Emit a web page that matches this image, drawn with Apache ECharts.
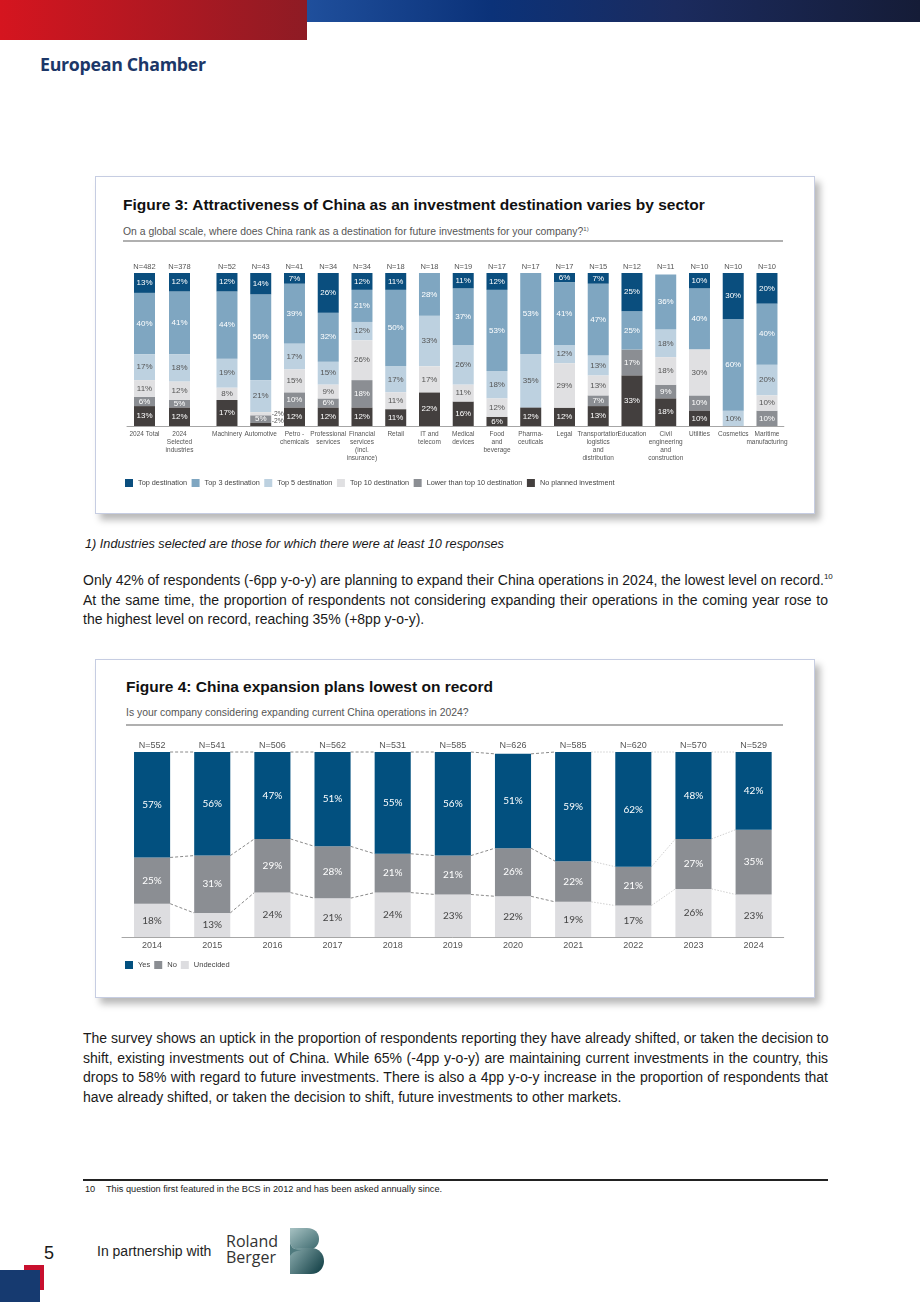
<!DOCTYPE html>
<html><head><meta charset="utf-8">
<script src="https://cdn.jsdelivr.net/npm/echarts@6.0.0/dist/echarts.min.js"></script>
<style>
html,body{margin:0;padding:0;background:#fff;}
#page{position:relative;width:920px;height:1302px;overflow:hidden;font-family:"Liberation Sans",Arial,sans-serif;color:#1a1a1a;}
.a{position:absolute;white-space:nowrap;}
.fig{position:absolute;left:95px;width:720px;border:1px solid #c6cde2;box-sizing:border-box;background:#fff;box-shadow:5px 6px 7px rgba(0,0,0,0.28);}
.ftitle{font-weight:bold;font-size:15.5px;line-height:18px;color:#111;}
.fsub{font-size:10.4px;line-height:12px;color:#555;}
.rule{position:absolute;height:2px;background:#b0b0b0;}
.para{position:absolute;left:83px;width:745px;font-family:"Liberation Sans Narrow","Arial Narrow",sans-serif;font-size:14px;line-height:19.5px;color:#1a1a1a;}
.para div{text-align:justify;text-align-last:justify;white-space:nowrap;}
.para div.last{text-align-last:left;}
sup{font-size:8px;line-height:0;vertical-align:6px;}
</style></head>
<body><div id="page">
<div class="a" style="left:0;top:0;width:307px;height:40px;background:linear-gradient(to right,#d5151f,#8e1b24);"></div>
<div class="a" style="left:307px;top:0;width:613px;height:22px;background:linear-gradient(to right,#1f4f9c 0%,#0b3279 30%,#1b2b5e 60%,#151c37 100%);"></div>
<div class="a" style="left:40px;top:52px;font-family:'Open Sans',sans-serif;font-weight:bold;font-size:17.8px;line-height:24px;color:#1c3768;letter-spacing:-0.3px;">European Chamber</div>

<div class="fig" style="top:176px;height:338px;"></div>
<div class="a ftitle" style="left:123px;top:196px;">Figure 3: Attractiveness of China as an investment destination varies by sector</div>
<div class="a fsub" style="left:123px;top:226px;">On a global scale, where does China rank as a destination for future investments for your company?<sup style="font-size:6px;vertical-align:4px;">1)</sup></div>
<div class="rule" style="left:123px;top:240px;width:660px;"></div>
<div id="c3" class="a" style="left:100px;top:250px;width:710px;height:250px;"></div>

<div class="a" style="left:85px;top:536px;font-family:'Liberation Sans Narrow','Arial Narrow',sans-serif;font-style:italic;font-size:12.7px;line-height:16px;">1) Industries selected are those for which there were at least 10 responses</div>

<div class="para" style="top:571px;">
<div>Only 42% of respondents (-6pp y-o-y) are planning to expand their China operations in 2024, the lowest level on record.<sup>10</sup></div>
<div>At the same time, the proportion of respondents not considering expanding their operations in the coming year rose to</div>
<div class="last">the highest level on record, reaching 35% (+8pp y-o-y).</div>
</div>

<div class="fig" style="top:659px;height:339px;"></div>
<div class="a ftitle" style="left:126px;top:678px;">Figure 4: China expansion plans lowest on record</div>
<div class="a fsub" style="left:126px;top:707px;">Is your company considering expanding current China operations in 2024?</div>
<div class="rule" style="left:126px;top:724px;width:657px;"></div>
<div id="c4" class="a" style="left:100px;top:735px;width:710px;height:250px;"></div>

<div class="para" style="top:1029px;">
<div>The survey shows an uptick in the proportion of respondents reporting they have already shifted, or taken the decision to</div>
<div>shift, existing investments out of China. While 65% (-4pp y-o-y) are maintaining current investments in the country, this</div>
<div>drops to 58% with regard to future investments. There is also a 4pp y-o-y increase in the proportion of respondents that</div>
<div class="last">have already shifted, or taken the decision to shift, future investments to other markets.</div>
</div>

<div class="a" style="left:83px;top:1179px;width:745px;height:1.5px;background:#222;"></div>
<div class="a" style="left:85px;top:1184px;font-size:9.2px;line-height:10px;">10</div>
<div class="a" style="left:106px;top:1184px;font-size:9.2px;line-height:10px;">This question first featured in the BCS in 2012 and has been asked annually since.</div>

<div class="a" style="left:24px;top:1265px;width:20px;height:25px;background:#c8102e;z-index:0;"></div>
<div class="a" style="left:0;top:1270px;width:40px;height:32px;background:#163a70;z-index:1;"></div>
<div class="a" style="left:44px;top:1242px;font-size:18px;line-height:22px;">5</div>
<div class="a" style="left:97px;top:1242px;font-size:14px;line-height:18px;color:#222;">In partnership with</div>
<div class="a" style="left:226px;top:1233px;font-family:'Open Sans',sans-serif;font-size:16px;line-height:16px;color:#333;">Roland<br>Berger</div>
<svg class="a" style="left:290px;top:1228px;" width="34" height="46" viewBox="0 0 34 46">
<defs>
<linearGradient id="g1" x1="0" y1="0" x2="1" y2="1"><stop offset="0" stop-color="#a7c2c3"/><stop offset="1" stop-color="#3a676c"/></linearGradient>
<linearGradient id="g2" x1="0" y1="0" x2="1" y2="0.6"><stop offset="0" stop-color="#8aabad"/><stop offset="1" stop-color="#1e4a50"/></linearGradient>
</defs>
<path d="M0,0 H17 C25,0 29,5 29,11 C29,17 25,22 17,22 H9 C4,22 0,18 0,13 Z" fill="url(#g1)"/>
<path d="M0,46 V30 C0,24 4,20 10,20 H21 C29,20 34,26 34,33 C34,40 29,46 21,46 Z" fill="url(#g2)"/>
<path d="M0,13 C0,18 4,22 9,22 H14 C8,22 0,24 0,30 Z" fill="#4f7a7e"/>
</svg>
</div>

<script>
// ---------- Figure 3 data ----------
const sectorCategories = ['2024 Total','2024\nSelected\nindustries','Machinery','Automotive','Petro -\nchemicals','Professional\nservices','Financial\nservices\n(incl.\ninsurance)','Retail','IT and\ntelecom','Medical\ndevices','Food\nand\nbeverage','Pharma-\nceuticals','Legal','Transportation\nlogistics\nand\ndistribution','Education','Civil\nengineering\nand\nconstruction','Utilities','Cosmetics','Maritime\nmanufacturing'];
const sectorN = ['N=482','N=378','N=52','N=43','N=41','N=34','N=34','N=18','N=18','N=19','N=17','N=17','N=17','N=15','N=12','N=11','N=10','N=10','N=10'];
const rankLevels = ['No planned investment','Lower than top 10 destination','Top 10 destination','Top 5 destination','Top 3 destination','Top destination'];
const noPlanned  = [13,12, 17, 2,12,12,12,11,22,16, 6,12,12,13,33,18,10, 0, 0];
const lowerTop10 = [ 6, 5,  0, 5,10, 6,18, 0, 0, 0, 0, 0, 0, 7,17, 9,10, 0,10];
const top10Dest  = [11,12,  8, 2,15, 9,26,11,17,11,12, 0,29,13, 0,18,30, 0,10];
const top5Dest   = [17,18, 19,21,17,15,12,17,33,26,18,35,12,13, 0,18, 0,10,20];
const top3Dest   = [40,41, 44,56,39,32,21,50,28,37,53,53,41,47,25,36,40,60,40];
const topDest    = [13,12, 12,14, 7,26,12,11, 0,11,12, 0, 6, 7,25, 0,10,30,20];
const legendOrder3 = ['Top destination','Top 3 destination','Top 5 destination','Top 10 destination','Lower than top 10 destination','No planned investment'];

// ---------- Figure 4 data ----------
const years = ['2014','2015','2016','2017','2018','2019','2020','2021','2022','2023','2024'];
const yearN = ['N=552','N=541','N=506','N=562','N=531','N=585','N=626','N=585','N=620','N=570','N=529'];
const yesShare = [57,56,47,51,55,56,51,59,62,48,42];
const noShare = [25,31,29,28,21,21,26,22,21,27,35];
const undecidedShare = [18,13,24,21,24,23,22,19,17,26,23];

const FONT = 'Liberation Sans';
// ---------- Figure 3 chart ----------
(function(){
  const chart = echarts.init(document.getElementById('c3'));
  const levelArrays = [noPlanned, lowerTop10, top10Dest, top5Dest, top3Dest, topDest];
  const colors = ['#433f3e','#8b8e93','#e0e0e2','#bdd1e0','#7fa6c1','#0a4e7e'];
  const labelColors = ['#fff','#fff','#555','#555','#fff','#fff'];
  const split = (arr, g) => g === 0 ? arr.slice(0,2).concat(['']) : arr.slice(2);
  const splitVals = (arr, g) => g === 0 ? arr.slice(0,2).concat([null]) : arr.slice(2);
  const grids = [
    {left:27, top:23, width:105, height:153, outerBoundsMode:'none'},
    {left:110.1, top:23, width:573.75, height:153, outerBoundsMode:'none'}
  ];
  const xAxis = [], yAxis = [], series = [];
  [0,1].forEach(g => {
    xAxis.push({type:'category', gridIndex:g, data:split(sectorCategories,g), position:'bottom',
      axisLine:{lineStyle:{color:'#a6a6a6', width:1}}, axisTick:{show:false},
      axisLabel:{interval:0, fontSize:6.5, lineHeight:8, color:'#555', margin:4, fontFamily:FONT}});
    xAxis.push({type:'category', gridIndex:g, data:split(sectorN,g), position:'top',
      axisLine:{show:false}, axisTick:{show:false},
      axisLabel:{interval:0, fontSize:7.5, color:'#555', margin:2, fontFamily:FONT}});
    yAxis.push({type:'value', gridIndex:g, min:0, max:100, show:false});
    levelArrays.forEach((arr, li) => {
      const hasSmall = arr.some(v => v && v <= 3);
      series.push({
        type:'bar', name:rankLevels[li], stack:'s'+g, xAxisIndex:g*2, yAxisIndex:g,
        barWidth:21, itemStyle:{color:colors[li]}, z: hasSmall ? 5 : 2,
        data: splitVals(arr,g).map(v => {
          if (!v) return null;
          if (v <= 3) return {value:v, label:{position:'right', distance:0.5, fontSize:6.8, color:'#555', offset: li===0 ? [0,-3] : [0,0]}};
          return v;
        }),
        label:{show:true, position:'inside', fontSize:8, color:labelColors[li], fontFamily:FONT,
          formatter: p => p.value ? (p.value <= 3 ? '-' + p.value + '%' : p.value + '%') : ''}
      });
    });
  });
  chart.setOption({
    animation:false,
    textStyle:{fontFamily:FONT},
    grid:grids, xAxis, yAxis, series,
    legend:{data:legendOrder3, left:25, top:229, padding:0, itemWidth:8, itemHeight:8, itemGap:4.5, icon:'rect',
      selectedMode:false, textStyle:{fontSize:7.3, color:'#444', fontFamily:FONT}}
  });
})();

// ---------- Figure 4 chart ----------
(function(){
  const chart = echarts.init(document.getElementById('c4'));
  const levels = k => {
    const a = undecidedShare[k], b = a + noShare[k], c = Math.min(100, b + yesShare[k]);
    return [a, b, c];
  };
  const barLabel = (color) => ({show:true, position:'inside', fontSize:10, color, fontFamily:'Lato',
    formatter: p => p.value + '%'});
  chart.setOption({
    animation:false,
    textStyle:{fontFamily:FONT},
    grid:{left:22, top:17, width:661.7, height:185, outerBoundsMode:'none'},
    xAxis:[
      {type:'category', data:years, position:'bottom', axisLine:{lineStyle:{color:'#a6a6a6'}}, axisTick:{show:false},
        axisLabel:{fontSize:9, color:'#555', margin:4, fontFamily:FONT}},
      {type:'category', data:yearN, position:'top', axisLine:{show:false}, axisTick:{show:false},
        axisLabel:{fontSize:9, color:'#555', margin:2, fontFamily:FONT}}
    ],
    yAxis:{type:'value', min:0, max:100, show:false},
    legend:{data:['Yes','No','Undecided'], left:25, top:226, padding:0, itemWidth:8, itemHeight:8, itemGap:4, icon:'rect',
      selectedMode:false, textStyle:{fontSize:7.5, color:'#444', fontFamily:FONT}},
    series:[
      {type:'bar', name:'Undecided', stack:'t', barWidth:'60%', itemStyle:{color:'#dddde0'}, data:undecidedShare, label:barLabel('#444')},
      {type:'bar', name:'No', stack:'t', barWidth:'60%', itemStyle:{color:'#8b8e93'}, data:noShare, label:barLabel('#fff')},
      {type:'bar', name:'Yes', stack:'t', barWidth:'60%', itemStyle:{color:'#02507f'}, data:yesShare, label:barLabel('#fff')},
      {type:'custom', name:'connectors', silent:true, z:1,
        data: years.slice(0,-1).map((y,i) => [i, 0]),
        renderItem: (params, api) => {
          const i = api.value(0);
          const hw = api.size([1,0])[0] * 0.3;
          const a = levels(i), b = levels(i+1);
          const light = i >= 7;
          return {type:'group', children: a.map((v,j) => {
            const p1 = api.coord([i, v]), p2 = api.coord([i+1, b[j]]);
            return {type:'line', shape:{x1:p1[0]+hw, y1:p1[1], x2:p2[0]-hw, y2:p2[1]},
              style:{stroke: light ? '#c4c4c4' : '#7d7d7d', lineWidth: light ? 0.8 : 0.9, lineDash: light ? [1.5,1.5] : [3,2]}};
          })};
        }
      }
    ]
  });
})();
</script>
</body></html>
